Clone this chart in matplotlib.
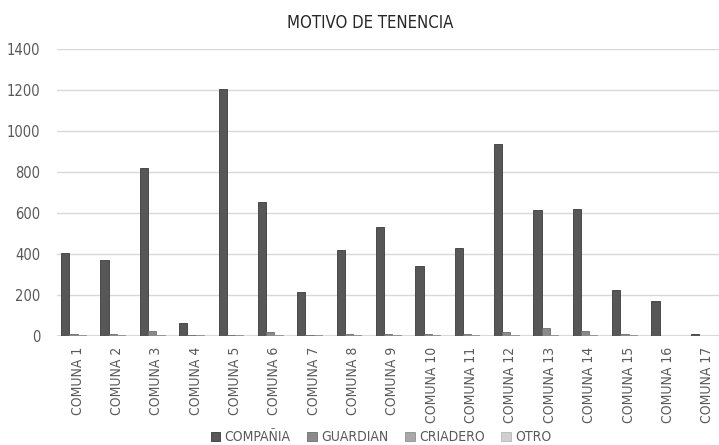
import numpy as np
import matplotlib.pyplot as plt
from matplotlib.patches import Patch

plt.rcParams['font.family'] = ['DejaVu Sans']
plt.rcParams['font.stretch'] = 'condensed'

comunas = ['COMUNA %d' % i for i in range(1, 18)]
compania = [405, 370, 820, 65, 1205, 655, 215, 420, 530, 340, 430, 935, 615, 620, 225, 170, 12]
guardian = [12, 8, 25, 5, 3, 20, 3, 10, 12, 8, 12, 18, 40, 22, 8, 2, 1]
criadero = [3, 3, 3, 3, 3, 3, 3, 3, 3, 3, 3, 3, 3, 3, 3, 2, 1]
otro = [2, 2, 2, 2, 2, 2, 2, 2, 2, 2, 2, 2, 2, 2, 2, 1, 1]

series = [
    ('COMPAÑIA', compania, '#575757', '#3a3a3a'),
    ('GUARDIAN', guardian, '#8a8a8a', '#6e6e6e'),
    ('CRIADERO', criadero, '#a8a8a8', '#909090'),
    ('OTRO', otro, '#cfcfcf', '#b8b8b8'),
]

fig = plt.figure(figsize=(7.19, 4.45), dpi=100)
ax = fig.add_axes([0.079, 0.245, 0.921, 0.645])

x = np.arange(len(comunas))
w = 0.21
for k, (name, vals, col, edge) in enumerate(series):
    ax.bar(x + (k - 1.5) * w, vals, w, color=col, edgecolor=edge,
           linewidth=0.6, zorder=3)

ax.set_ylim(0, 1400)
ax.set_xlim(-0.53, 16.3)
ax.set_yticks(range(0, 1401, 200))
ax.yaxis.grid(True, color='#d9d9d9', linewidth=1.0, zorder=0)
ax.axhline(0, color='#d9d9d9', linewidth=1.5, zorder=2)
for s in ax.spines.values():
    s.set_visible(False)
ax.tick_params(axis='both', length=0, colors='#595959')
ax.tick_params(axis='y', pad=12, labelsize=10.5)
ax.tick_params(axis='x', pad=8, labelsize=10)
ax.set_xticks(x)
ax.set_xticklabels(comunas, rotation=90)

fig.text(0.515, 0.948, 'MOTIVO DE TENENCIA', ha='center', va='center',
         fontsize=12, color='#262626')

handles = [Patch(facecolor=c, edgecolor=e, linewidth=0.6) for _, _, c, e in series]
fig.legend(handles, [s[0] for s in series], loc='center', ncol=4,
           bbox_to_anchor=(0.53, 0.017), frameon=False, fontsize=10,
           handlelength=0.7, handleheight=0.7, handletextpad=0.3,
           columnspacing=1.2, labelcolor='#595959')

fig.savefig('out.png', dpi=100)
